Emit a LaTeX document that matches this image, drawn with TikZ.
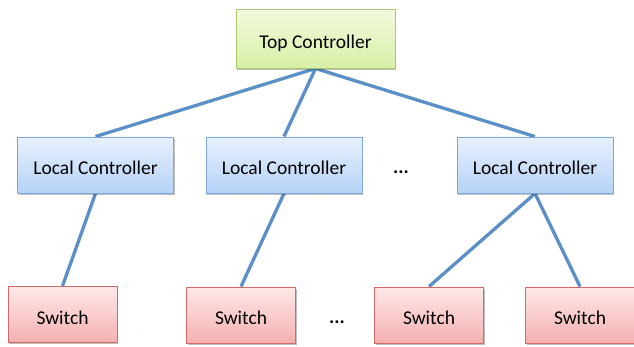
\documentclass[tikz,border=0pt]{standalone}
\usepackage{fontspec}
\setmainfont{Carlito}
\usetikzlibrary{shadows,backgrounds}
\definecolor{topA}{HTML}{F3FADF}
\definecolor{topB}{HTML}{D8EFA6}
\definecolor{topD}{HTML}{A9C96C}
\definecolor{lcA}{HTML}{E8F1FD}
\definecolor{lcB}{HTML}{B5D2F7}
\definecolor{lcD}{HTML}{7FA7D9}
\definecolor{swA}{HTML}{FDE8E8}
\definecolor{swB}{HTML}{F5B0B0}
\definecolor{swD}{HTML}{D36A6A}
\definecolor{link}{HTML}{5B8FC7}
\tikzset{
  boxbase/.style={rectangle, line width=1pt, inner sep=0pt, font=\fontsize{19.5}{22}\selectfont,
    text height=19pt, text depth=0pt,
    drop shadow={shadow xshift=1.2pt, shadow yshift=-1.8pt, opacity=0.25, fill=black}},
  topbox/.style={boxbase, draw=topD, top color=topA, bottom color=topB, minimum width=159pt, minimum height=59pt},
  lcbox/.style={boxbase, draw=lcD, top color=lcA, bottom color=lcB, minimum width=156pt, minimum height=56pt},
  swbox/.style={boxbase, draw=swD, top color=swA, bottom color=swB, minimum width=109pt, minimum height=56pt},
  linkline/.style={draw=link, line width=3.3pt},
  dots/.style={font=\fontsize{19.5}{22}\selectfont\bfseries, inner sep=0pt}
}
\begin{document}
\begin{tikzpicture}[x=1pt,y=-1pt]
\useasboundingbox (0,0) rectangle (634,346);
\node[topbox] (top) at (315.5,38.5) {Top Controller};
\node[lcbox] (lc1) at (95.5,165) {Local Controller};
\node[lcbox] (lc2) at (284,165) {Local Controller};
\node[lcbox] (lc3) at (535,165) {Local Controller};
\node[swbox] (sw1) at (62.5,314.5) {Switch};
\node[swbox] (sw2) at (241,315) {Switch};
\node[swbox] (sw3) at (429,315) {Switch};
\node[swbox] (sw4) at (580,315) {Switch};
\node[dots] (d1) at (401,172) {...};
\node[dots] (d2) at (337,322) {...};
\begin{scope}[on background layer]
\draw[linkline] (top.south) -- (lc1.north);
\draw[linkline] (top.south) -- (lc2.north);
\draw[linkline] (top.south) -- (lc3.north);
\draw[linkline] (lc1.south) -- (sw1.north);
\draw[linkline] (lc2.south) -- (sw2.north);
\draw[linkline] (lc3.south) -- (sw3.north);
\draw[linkline] (lc3.south) -- (sw4.north);
\end{scope}
\end{tikzpicture}
\end{document}
